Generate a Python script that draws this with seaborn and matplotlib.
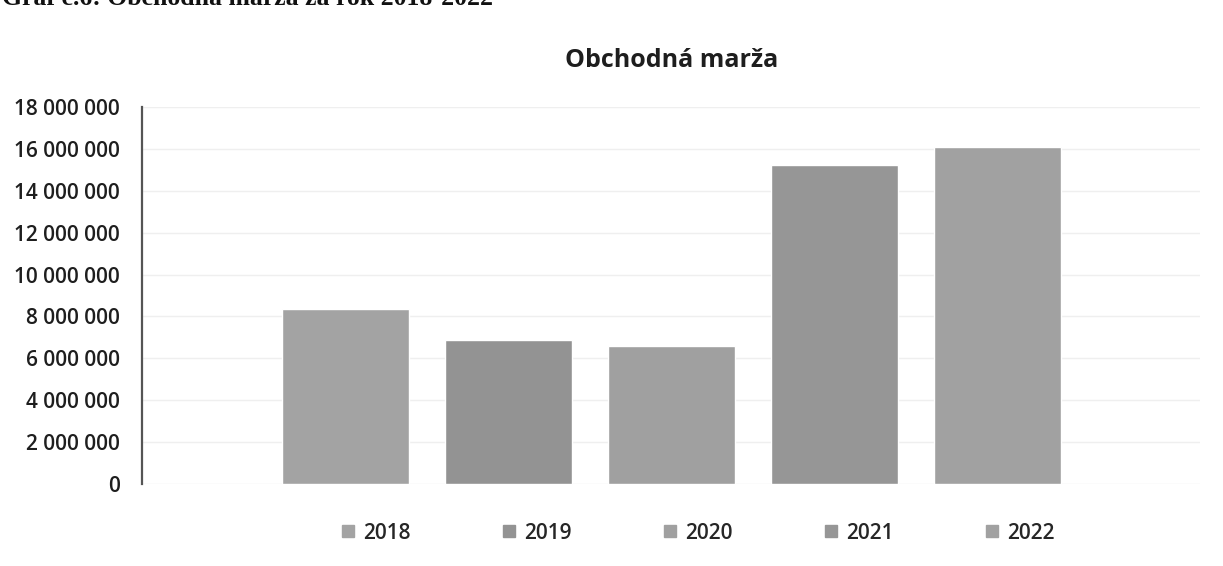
import numpy as np
import pandas as pd
import matplotlib
matplotlib.use("Agg")
import matplotlib.pyplot as plt
import seaborn as sns
from matplotlib.lines import Line2D

# data
years = ["2018", "2019", "2020", "2021", "2022"]
marza = [8370000, 6880000, 6590000, 15230000, 16100000]
colors = ["#a3a3a3", "#939393", "#a0a0a0", "#969696", "#a1a1a1"]
yticks = [0, 2000000, 4000000, 6000000, 8000000, 10000000, 12000000, 14000000, 16000000, 18000000]

df = pd.DataFrame({"rok": years, "marza": marza})

sns.set_style("white")
plt.rcParams["font.family"] = ["Open Sans", "DejaVu Sans"]

fig = plt.figure(figsize=(12.23, 5.66), dpi=100)
ax = fig.add_axes([0.116, 0.145, 0.865, 0.666])

sns.barplot(data=df, x="rok", y="marza", hue="rok", palette=colors,
            width=0.78, legend=False, ax=ax, saturation=1)

ax.set_ylim(0, 18000000)
ax.set_xlim(-1.25, 5.24)
ax.set_yticks(yticks)
ax.set_yticklabels([f"{v:,}".replace(",", " ") for v in yticks],
                   fontsize=15, fontweight="semibold", color="#1e1e1e")
ax.set_xticks([])
ax.set_xlabel("")
ax.set_ylabel("")
ax.tick_params(axis="y", length=0, pad=16)
ax.grid(axis="y", color="#efefef", linewidth=1)
ax.set_axisbelow(True)
for s in ["top", "right", "bottom"]:
    ax.spines[s].set_visible(False)
ax.spines["left"].set_color("#555555")
ax.spines["left"].set_linewidth(1.6)

fig.text(0.549, 0.893, "Obchodná marža", ha="center", va="center",
         fontsize=18, fontweight="bold", color="#1e1e1e")

# cut-off caption at the top of the scan
fig.text(0.002, 1.003, "Graf č.6: Obchodná marža za rok 2018-2022", ha="left", va="center",
         fontsize=18.5, fontweight="bold", family="Liberation Serif", color="#111111")

handles = [Line2D([0], [0], marker="s", linestyle="", markersize=8.5,
                  markerfacecolor=c, markeredgecolor=c) for c in colors]
fig.legend(handles, years, loc="center", bbox_to_anchor=(0.570, 0.058), ncol=5,
           frameon=False, columnspacing=4.35, handletextpad=0.3, handlelength=0.8,
           prop={"size": 15, "weight": "semibold"})

fig.savefig("out.png", dpi=100)
